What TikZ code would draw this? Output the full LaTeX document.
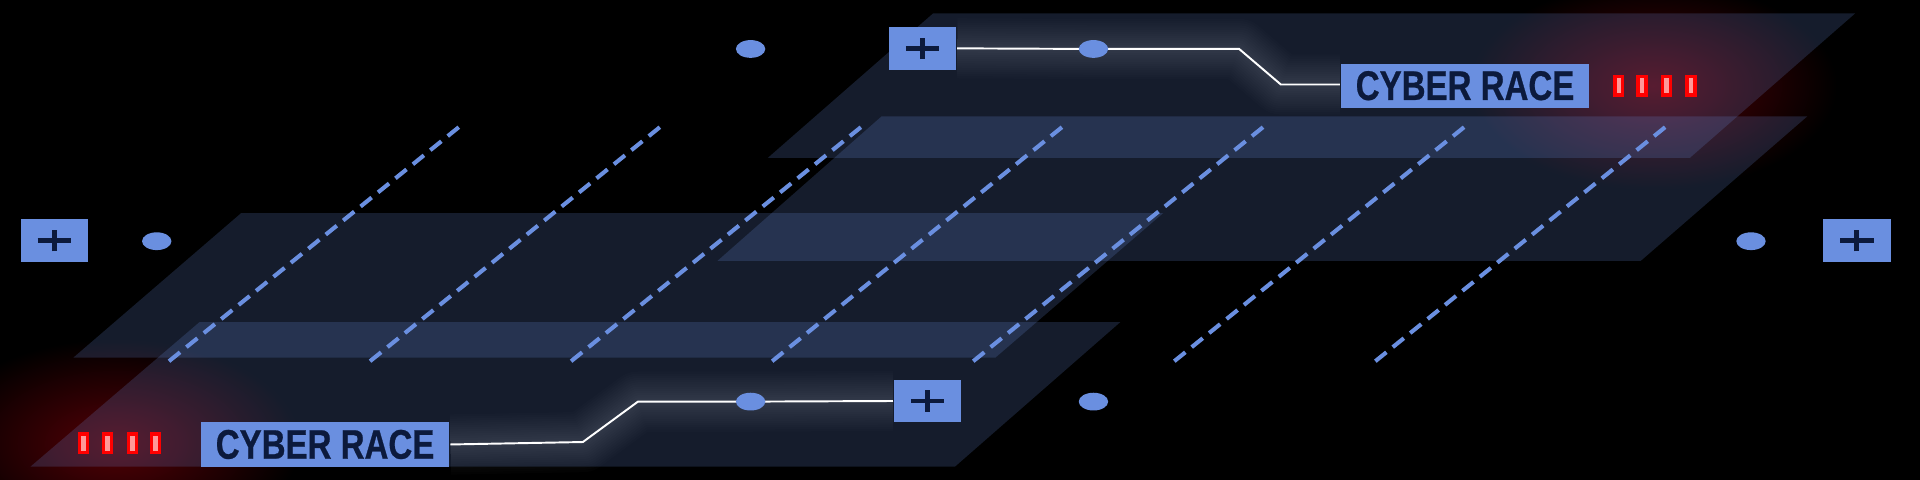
\documentclass[tikz,border=0pt]{standalone}
\usepackage{fontspec}
\newfontfamily\racefont[FakeStretch=0.8, FakeBold=0.6]{Liberation Sans}
\usetikzlibrary{shapes.geometric,fadings}

\definecolor{panelblue}{RGB}{106,143,224}
\definecolor{inkblue}{RGB}{12,26,60}
\definecolor{glowred}{RGB}{130,0,10}
\tikzfading[name=redfade, inner color=transparent!35, outer color=transparent!100]

\pgfdeclarelayer{base}
\pgfdeclarelayer{glow}
\pgfsetlayers{base,glow,main}

\tikzset{
  plate/.style={fill=panelblue, fill opacity=0.2},
  lane/.style={panelblue, line width=0.95pt, dash pattern=on 3.3pt off 1.9pt},
  dot/.style={ellipse, fill=panelblue, minimum width=0.24cm, minimum height=0.145cm, inner sep=0pt},
  plusbox/.style={fill=panelblue, minimum width=0.55cm, minimum height=0.35cm, inner sep=0pt,
    path picture={
      \draw[inkblue, line width=1.15pt] ([xshift=-0.137cm]path picture bounding box.center) -- ([xshift=0.137cm]path picture bounding box.center);
      \draw[inkblue, line width=1.15pt] ([yshift=-0.088cm]path picture bounding box.center) -- ([yshift=0.088cm]path picture bounding box.center);
    }},
  racebox/.style={fill=panelblue, text=inkblue, minimum width=2.03cm, minimum height=0.36cm, inner sep=0pt,
    font=\racefont\bfseries\fontsize{9.6}{9.6}\selectfont},
  led/.style={fill=red!40!white, draw=red, line width=0.8pt, minimum width=0.065cm, minimum height=0.15cm, inner sep=0pt},
  wire/.style={white, line width=0.45pt},
  halo/.style={white, line width=#1, opacity=0.013, line join=round}
}

\begin{document}
\begin{tikzpicture}[x=0.01cm, y=-0.01cm]
  \useasboundingbox (0,0) rectangle (1568,392);
  \begin{pgfonlayer}{base}
  % Background
  \fill[black] (0,0) rectangle (1568,392);

  % Red glow behind the lights
  \fill[glowred, path fading=redfade] (95,362) ellipse [x radius=1.5cm, y radius=0.85cm];
  \fill[glowred, path fading=redfade] (1350,70) ellipse [x radius=1.5cm, y radius=0.85cm];

  % Draw the plates
  \fill[plate] (762,11) -- (1515,11) -- (1380,129) -- (627,129) -- cycle;
  \fill[plate] (720,95) -- (1476,95) -- (1340,213) -- (586,213) -- cycle;
  \fill[plate] (197,174) -- (950,174) -- (813,292) -- (60,292) -- cycle;
  \fill[plate] (163,263) -- (915,263) -- (780,381) -- (25,381) -- cycle;

  % Dashed lanes
  \foreach \i in {0,...,6}
    \draw[lane] (138+164.2*\i,295) -- (377+164.2*\i,102);
  \end{pgfonlayer}

  % Top row
  \node[dot] (dotA) at (613,40) {};
  \node[plusbox] (plusT) at (753.5,39.5) {};
  \node[dot] (dotT) at (893,40) {};
  \node[racebox] (raceT) at (1196.5,70) {CYBER RACE};
  \foreach \x [count=\k] in {1322,1341,1361,1381}
    \node[led] (ledT\k) at (\x,70) {};

  % Middle row
  \node[plusbox] (plusL) at (44.5,196.5) {};
  \node[dot] (dotL) at (128,197) {};
  \node[dot] (dotR) at (1430,197) {};
  \node[plusbox] (plusR) at (1516.5,196.5) {};

  % Bottom row
  \foreach \x [count=\k] in {68,88,108,127}
    \node[led] (ledB\k) at (\x,362) {};
  \node[racebox] (raceB) at (265.5,363) {CYBER RACE};
  \node[dot] (dotB) at (613,328) {};
  \node[plusbox] (plusB) at (757.5,327.5) {};
  \node[dot] (dotC) at (893,328) {};

  % Wires, under the boxes
  \coordinate (bendA) at (1012,40);
  \coordinate (bendB) at (1046,69);
  \coordinate (bendC) at (476,361);
  \coordinate (bendD) at (521,328);
  \begin{pgfonlayer}{glow}
  \foreach \w in {1,...,14} {
    \draw[halo=\w pt] (plusT.east) -- (dotT.center) -- (bendA) -- (bendB) -- (bendB -| raceT.west);
    \draw[halo=\w pt] (raceB.east) -- (bendC) -- (bendD) -- (dotB.center) -- (plusB.west);
  }
  \draw[wire] (plusT.east) -- (dotT.center) -- (bendA) -- (bendB) -- (bendB -| raceT.west);
  \draw[wire] (raceB.east) -- (bendC) -- (bendD) -- (dotB.center) -- (plusB.west);
  \end{pgfonlayer}
\end{tikzpicture}
\end{document}
